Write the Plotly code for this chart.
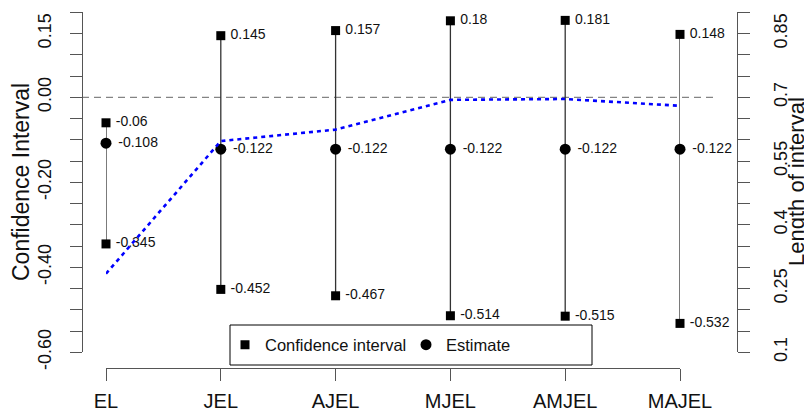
import plotly.graph_objects as go

# ---------------- data ----------------
categories = ["EL", "JEL", "AJEL", "MJEL", "AMJEL", "MAJEL"]
upper = [-0.06, 0.145, 0.157, 0.18, 0.181, 0.148]
lower = [-0.345, -0.452, -0.467, -0.514, -0.515, -0.532]
estimate = [-0.108, -0.122, -0.122, -0.122, -0.122, -0.122]
interval_length = [0.285, 0.597, 0.624, 0.694, 0.696, 0.680]

upper_labels = ["-0.06", "0.145", "0.157", "0.18", "0.181", "0.148"]
lower_labels = ["-0.345", "-0.452", "-0.467", "-0.514", "-0.515", "-0.532"]
estimate_labels = ["-0.108", "-0.122", "-0.122", "-0.122", "-0.122", "-0.122"]

left_tick_vals = [-0.60, -0.55, -0.50, -0.45, -0.40, -0.35, -0.30, -0.25, -0.20,
                  -0.15, -0.10, -0.05, 0.00, 0.05, 0.10, 0.15, 0.20]
left_tick_text = ["-0.60", "", "", "", "-0.40", "", "", "", "-0.20",
                  "", "", "", "0.00", "", "", "0.15", ""]
right_tick_vals = [0.10, 0.15, 0.20, 0.25, 0.30, 0.35, 0.40, 0.45, 0.50,
                   0.55, 0.60, 0.65, 0.70, 0.75, 0.80, 0.85, 0.90]
right_tick_text = ["0.1", "", "", "0.25", "", "", "0.4", "", "",
                   "0.55", "", "", "0.7", "", "", "0.85", ""]

# ---------------- layout geometry (page pixels; the page body has an 8px margin) ----
OFF = 8
W, H = 812 - OFF, 414 - OFF
FONT = "Liberation Sans, Arial, Helvetica, sans-serif"


def px(x):
    return (x - OFF) / W


def py(y):
    return 1 - (y - OFF) / H


y_top, y_bot = 12.3, 352.3      # page rows of 0.20 / -0.60
x_first, x_last = 106, 680      # page cols of first / last category
x_axis_row = 368
left_axis_col, right_axis_col = 82, 737

fig = go.Figure()

# vertical interval segments
seg_x, seg_y = [], []
for c, lo, up in zip(categories, lower, upper):
    seg_x += [c, c, None]
    seg_y += [lo, up, None]
fig.add_trace(go.Scatter(x=seg_x, y=seg_y, mode="lines", cliponaxis=False,
                         line=dict(color="#333333", width=1.3),
                         showlegend=False, hoverinfo="skip"))

# interval length (right axis)
fig.add_trace(go.Scatter(x=categories, y=interval_length, yaxis="y2", mode="lines",
                         cliponaxis=False,
                         line=dict(color="#0000ff", width=2.6, dash="4px,4px"),
                         showlegend=False, hoverinfo="skip"))

# squares for interval ends
fig.add_trace(go.Scatter(x=categories + categories, y=upper + lower, mode="markers",
                         cliponaxis=False, legend="legend",
                         marker=dict(symbol="square", size=9, color="black"),
                         name="Confidence interval"))
# circles for estimates
fig.add_trace(go.Scatter(x=categories, y=estimate, mode="markers", cliponaxis=False,
                         legend="legend2",
                         marker=dict(symbol="circle", size=11, color="black"),
                         name="Estimate"))

# value labels
fig.add_trace(go.Scatter(x=categories + categories, y=upper + lower, mode="markers+text",
                         cliponaxis=False,
                         text=upper_labels + lower_labels, textposition="middle right",
                         marker=dict(size=14, color="rgba(0,0,0,0)"),
                         textfont=dict(family=FONT, size=14, color="#111111"),
                         showlegend=False, hoverinfo="skip"))
fig.add_trace(go.Scatter(x=categories, y=estimate, mode="markers+text", cliponaxis=False,
                         text=estimate_labels, textposition="middle right",
                         marker=dict(size=18, color="rgba(0,0,0,0)"),
                         textfont=dict(family=FONT, size=14, color="#111111"),
                         showlegend=False, hoverinfo="skip"))

axis_common = dict(showline=True, linecolor="#555555", linewidth=1, ticks="outside",
                   ticklen=12, tickcolor="#555555", tickwidth=1, showgrid=False,
                   zeroline=False, automargin=False)

legend_common = dict(orientation="h", yanchor="middle", xanchor="left",
                     bgcolor="rgba(0,0,0,0)", borderwidth=0,
                     font=dict(family=FONT, size=16.5, color="#111111"), itemwidth=30)

fig.update_layout(
    width=W, height=H,
    margin=dict(l=0, r=0, t=0, b=0),
    paper_bgcolor="white", plot_bgcolor="rgba(0,0,0,0)",
    font=dict(family=FONT, color="#111111"),
    xaxis=dict(type="category", categoryorder="array", categoryarray=categories,
               range=[0, len(categories) - 1],
               domain=[px(x_first), px(x_last)], anchor="free", position=py(x_axis_row),
               tickfont=dict(size=20, color="#111111"), ticklabelstandoff=3,
               **axis_common),
    yaxis=dict(range=[-0.60, 0.20], domain=[py(y_bot), py(y_top)],
               anchor="free", position=px(left_axis_col),
               tickvals=left_tick_vals, ticktext=left_tick_text, tickangle=-90,
               tickfont=dict(size=18, color="#111111"), ticklabelstandoff=12,
               **axis_common),
    yaxis2=dict(range=[0.10, 0.90], overlaying="y", side="right",
                anchor="free", position=px(right_axis_col),
                tickvals=right_tick_vals, ticktext=right_tick_text, tickangle=-90,
                tickfont=dict(size=18, color="#111111"), ticklabelstandoff=15,
                **axis_common),
    legend=dict(x=px(225), y=py(345), **legend_common),
    legend2=dict(x=px(406), y=py(345), **legend_common),
    shapes=[
        dict(type="line", xref="paper", yref="y", x0=px(left_axis_col), x1=px(716),
             y0=0, y1=0, line=dict(color="#666666", width=1, dash="7px,5px"),
             layer="below"),
        dict(type="rect", xref="paper", yref="paper", x0=px(230), x1=px(592),
             y0=py(365), y1=py(325), line=dict(color="black", width=1),
             fillcolor="white", layer="above"),
    ],
    annotations=[
        dict(text="Confidence Interval", xref="paper", yref="paper", x=px(21), y=py(182),
             showarrow=False, textangle=-90, font=dict(size=23, color="#111111"),
             xanchor="center", yanchor="middle"),
        dict(text="Length of interval", xref="paper", yref="paper", x=px(796), y=py(182),
             showarrow=False, textangle=-90, font=dict(size=22, color="#111111"),
             xanchor="center", yanchor="middle"),
    ],
)

fig.write_html("out.html")
